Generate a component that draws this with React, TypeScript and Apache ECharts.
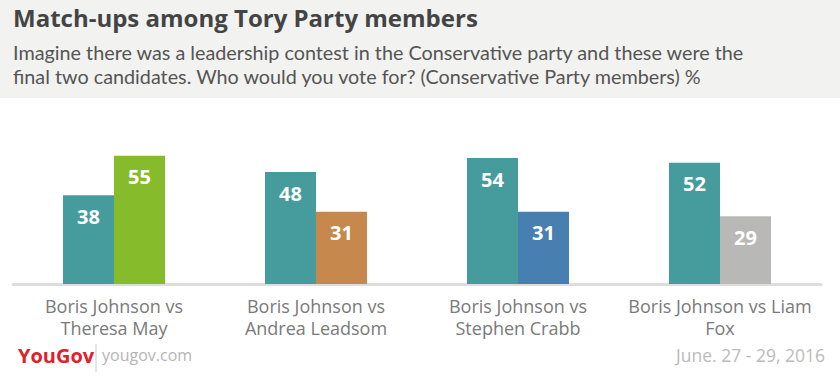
import React, { useEffect, useRef } from "react";
import * as echarts from "echarts";

const categories = [
  "Boris Johnson vs\nTheresa May",
  "Boris Johnson vs\nAndrea Leadsom",
  "Boris Johnson vs\nStephen Crabb",
  "Boris Johnson vs Liam\nFox",
];
const borisValues = [38, 48, 54, 52];
const opponentValues = [55, 31, 31, 29];
const opponentColors = ["#86bc2c", "#c6884c", "#467fb0", "#b8b8b6"];

const titleText = "Match-ups among Tory Party members";
const subtitleLines = [
  "Imagine there was a leadership contest in the Conservative party and these were the",
  "final two candidates. Who would you vote for? (Conservative Party members) %",
];
const dateText = "June. 27 - 29, 2016";

const FONT = "'Open Sans', Lato, sans-serif";
const SUB_FONT = "Lato, 'Open Sans', sans-serif";

export default function App() {
  const ref = useRef<HTMLDivElement>(null);
  useEffect(() => {
    if (!ref.current) return;
    const chart = echarts.init(ref.current, undefined, { renderer: "svg" });
    const label = {
      show: true,
      position: "insideTop",
      distance: 11,
      color: "#ffffff",
      fontSize: 20,
      fontWeight: "bold",
      fontFamily: FONT,
    };
    chart.setOption({
      animation: false,
      backgroundColor: "#ffffff",
      grid: { left: 13, right: 19, top: 144, bottom: 93, containLabel: false },
      xAxis: {
        type: "category",
        data: categories,
        axisLine: { show: true, lineStyle: { color: "#dddddd", width: 3 } },
        axisTick: { show: false },
        axisLabel: {
          color: "#7a7a7a",
          fontSize: 18,
          fontFamily: FONT,
          lineHeight: 22,
          margin: 11,
          interval: 0,
        },
      },
      yAxis: {
        type: "value",
        min: 0,
        max: 60,
        show: false,
        splitLine: { show: false },
      },
      series: [
        {
          type: "bar",
          name: "Boris Johnson",
          data: borisValues,
          barWidth: 51,
          barGap: "0%",
          itemStyle: { color: "#469c9d" },
          label,
        },
        {
          type: "bar",
          name: "Opponent",
          data: opponentValues.map((v, i) => ({
            value: v,
            itemStyle: { color: opponentColors[i] },
          })),
          barWidth: 51,
          barGap: "0%",
          label,
        },
      ],
      graphic: [
        {
          type: "rect",
          z: -10,
          shape: { x: 0, y: 0, width: 840, height: 98 },
          style: { fill: "#f2f2f0" },
        },
        {
          type: "text",
          x: 13,
          y: 5,
          style: {
            text: titleText,
            fill: "#444444",
            font: `bold 24px ${FONT}`,
          },
        },
        ...subtitleLines.map((t, i) => ({
          type: "text",
          x: 13,
          y: 42 + i * 24,
          style: {
            text: t,
            fill: "#555555",
            font: `19.8px ${SUB_FONT}`,
          },
        })),
        {
          type: "text",
          x: 18,
          y: 345,
          style: {
            text: "YouGov",
            fill: "#e0202a",
            font: `bold 20px ${FONT}`,
          },
        },
        {
          type: "line",
          shape: { x1: 96, y1: 344, x2: 96, y2: 372 },
          style: { stroke: "#cccccc", lineWidth: 1 },
        },
        {
          type: "text",
          x: 102,
          y: 347,
          style: {
            text: "yougov.com",
            fill: "#b5b5b5",
            font: `16px ${FONT}`,
          },
        },
        {
          type: "text",
          right: 15,
          y: 346,
          style: {
            text: dateText,
            fill: "#bbbbbb",
            font: `17.5px ${FONT}`,
          },
        },
      ],
    });
    return () => chart.dispose();
  }, []);
  return (
    <div
      ref={ref}
      style={{ position: "fixed", left: 0, top: 0, width: 840, height: 377 }}
    />
  );
}
